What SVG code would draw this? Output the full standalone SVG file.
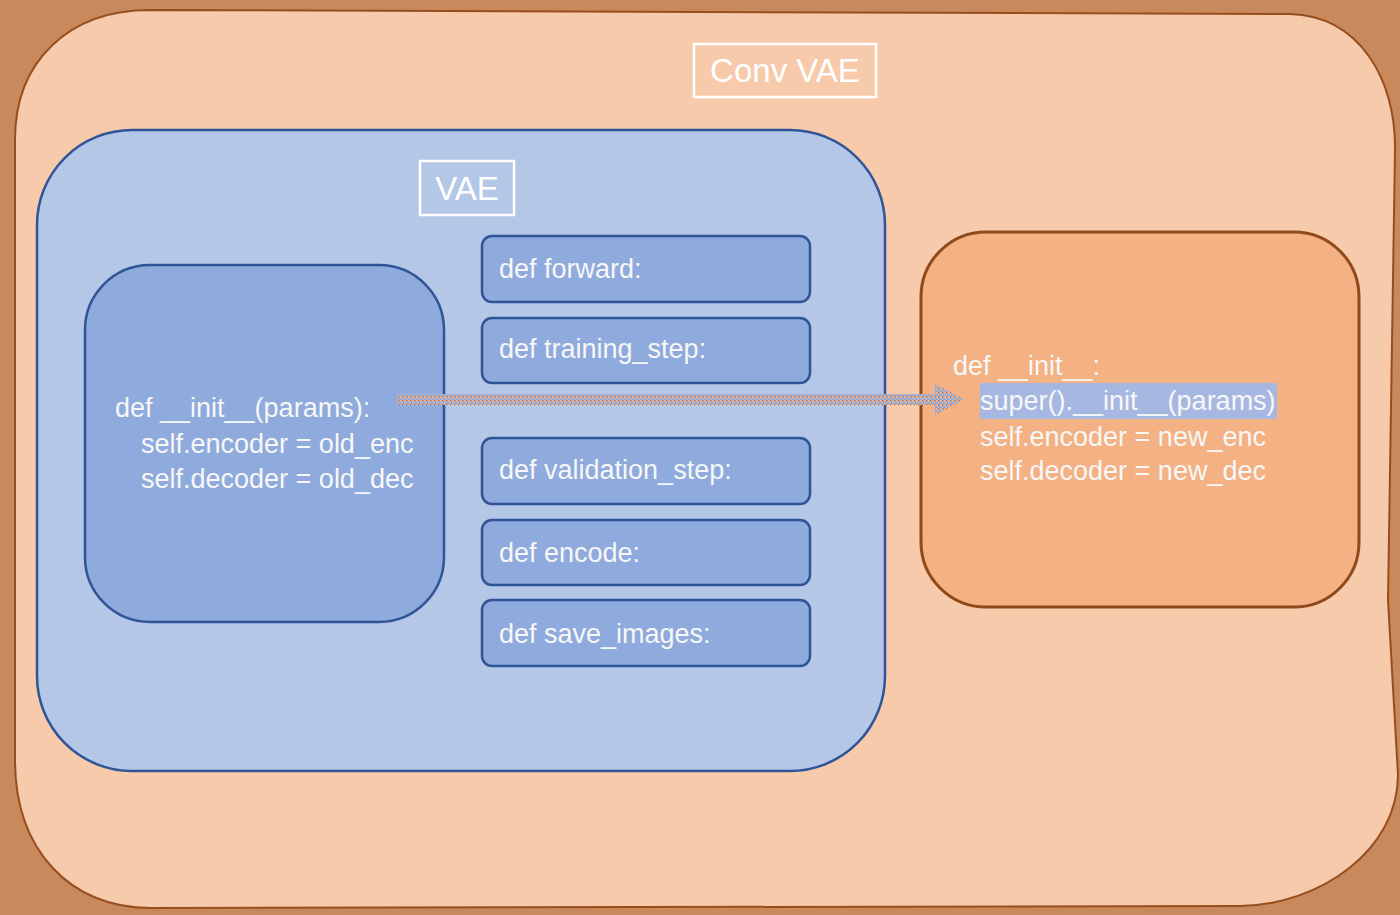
<svg xmlns="http://www.w3.org/2000/svg" width="1400" height="915" viewBox="0 0 1400 915">
<style>
.t{font-family:"Liberation Sans",Arial,sans-serif;fill:#F7F7F7;font-size:27px}
.lbl{font-family:"Liberation Sans",Arial,sans-serif;fill:#FFFFFF;font-size:33px}
.lblbox{fill:none;stroke:#FFFFFF;stroke-width:2.5}
.m{fill:#8FAADC;stroke:#2F5597;stroke-width:2.5}
</style>
<defs>
<pattern id="dither" width="4" height="4" patternUnits="userSpaceOnUse">
<rect width="4" height="4" fill="#8FAADC"/>
<rect width="2" height="2" fill="#F4B183"/>
<rect x="2" y="2" width="1" height="2" fill="#F4B183"/>
<rect x="2" y="0" width="1" height="1" fill="#B0603A"/>
</pattern>
</defs>
<rect width="1400" height="915" fill="#C8895C"/>
<g id="conv-vae">
<path d="M150,10 L1290,14 C1360,16 1396,80 1395,150 L1388,600 L1398,775 C1398,850 1320,905 1240,906 L150,908 C70,908 15,850 15,760 L15,140 C15,60 70,10 150,10 Z" fill="#F7CAAC" stroke="#974E1E" stroke-width="2"/>
<rect class="lblbox" x="694" y="44" width="182" height="53"/>
<text class="lbl" x="785" y="82" text-anchor="middle">Conv VAE</text>
</g>
<g id="vae">
<rect x="37" y="130" width="848" height="641" rx="95" ry="95" fill="#B4C7E7" stroke="#2F5597" stroke-width="2.5"/>
<rect class="lblbox" x="420" y="161" width="94" height="54"/>
<text class="lbl" x="467" y="200" text-anchor="middle">VAE</text>
</g>
<g id="vae-init">
<rect x="85" y="265" width="359" height="357" rx="65" ry="65" class="m"/>
<text class="t" x="115" y="417">def __init__(params):</text>
<text class="t" x="141" y="453">self.encoder = old_enc</text>
<text class="t" x="141" y="488">self.decoder = old_dec</text>
</g>
<g id="forward">
<rect x="482" y="236" width="328" height="66" rx="10" class="m"/>
<text class="t" x="499" y="278">def forward:</text>
</g>
<g id="training-step">
<rect x="482" y="318" width="328" height="65" rx="10" class="m"/>
<text class="t" x="499" y="358">def training_step:</text>
</g>
<g id="validation-step">
<rect x="482" y="438" width="328" height="66" rx="10" class="m"/>
<text class="t" x="499" y="479">def validation_step:</text>
</g>
<g id="encode">
<rect x="482" y="520" width="328" height="65" rx="10" class="m"/>
<text class="t" x="499" y="562">def encode:</text>
</g>
<g id="save-images">
<rect x="482" y="600" width="328" height="66" rx="10" class="m"/>
<text class="t" x="499" y="643">def save_images:</text>
</g>
<g id="conv-init">
<rect x="921" y="232" width="438" height="375" rx="65" ry="65" fill="#F4B183" stroke="#8F4A1C" stroke-width="3"/>
<rect x="980" y="383" width="297" height="36" fill="#A6B8E2"/>
<text class="t" x="953" y="375">def __init__:</text>
<text class="t" x="980" y="410">super().__init__(params)</text>
<text class="t" x="980" y="446">self.encoder = new_enc</text>
<text class="t" x="980" y="480">self.decoder = new_dec</text>
</g>
<g id="connectors">
<path d="M397,394 L935,394 L935,384 L964,399.5 L935,415 L935,405 L397,405 Z" fill="url(#dither)"/>
</g>
</svg>
